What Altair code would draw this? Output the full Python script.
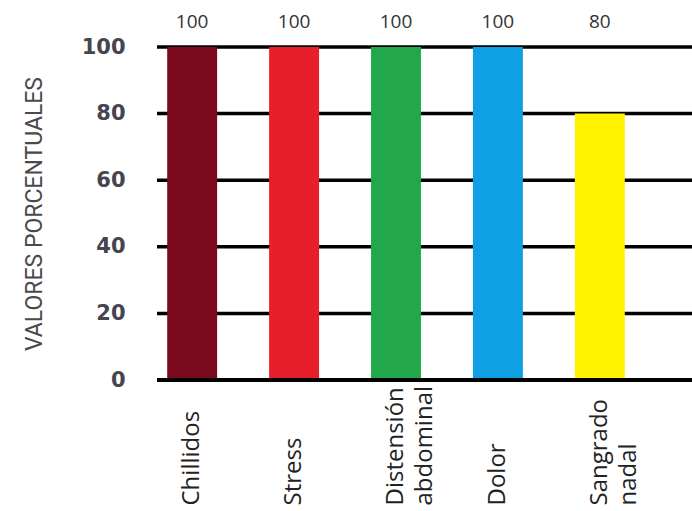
import altair as alt
import pandas as pd

# Síntomas observados y su frecuencia (%)
sintomas = ["Chillidos", "Stress", "Distensión\nabdominal", "Dolor", "Sangrado\nnadal"]
valores = [100, 100, 100, 100, 80]
colores = ["#7B0A1C", "#E81F2A", "#22A84B", "#0EA0E2", "#FFF200"]
marcas_y = [0, 20, 40, 60, 80, 100]

df = pd.DataFrame({"sintoma": sintomas, "valor": valores, "color": colores})
df_grid = pd.DataFrame({"valor": marcas_y})

W, H = 535, 333

x_enc = alt.X(
    "sintoma:N",
    sort=sintomas,
    scale=alt.Scale(domain=sintomas, range=[0, 478], paddingInner=0.51, paddingOuter=0.1),
    axis=alt.Axis(
        title=None,
        labelAngle=270,
        labelAlign="left",
        labelBaseline="middle",
        labelFont="Open Sans",
        labelFontSize=24,
        labelColor="#222222",
        labelPadding=125,
        labelExpr="split(datum.label, '\\n')",
        labelLineHeight=29,
        ticks=False,
        domain=False,
        grid=False,
    ),
)

y_scale = alt.Scale(domain=[0, 100])

y_axis = alt.Axis(
    title="VALORES PORCENTUALES",
    titleFont="Roboto",
    titleFontSize=23,
    titleFontWeight="normal",
    titleColor="#4a4a4a",
    titlePadding=35,
    values=marcas_y,
    labelFont="DejaVu Sans",
    labelFontSize=21,
    labelFontWeight="bold",
    labelColor="#454550",
    labelPadding=32,
    ticks=False,
    domain=False,
    grid=False,
)

y_enc = alt.Y("valor:Q", scale=y_scale, axis=y_axis)

# horizontal reference lines across the whole plot width
lineas = alt.Chart(df_grid).mark_rule(color="#000000", strokeWidth=3.5).encode(
    y=y_enc,
    x=alt.value(0),
    x2=alt.value(W),
)

barras = alt.Chart(df).mark_bar().encode(
    x=x_enc,
    y=y_enc,
    color=alt.Color("color:N", scale=None),
)

base_line = alt.Chart(df_grid).transform_filter("datum.valor == 0").mark_rule(
    color="#000000", strokeWidth=4
).encode(
    y=y_enc,
    x=alt.value(0),
    x2=alt.value(W),
)

etiquetas = alt.Chart(df).mark_text(
    font="Open Sans", fontSize=19, color="#333333", baseline="middle", dy=-25
).encode(
    x=alt.X("sintoma:N", sort=sintomas),
    y=alt.value(0),
    text="valor:Q",
)

chart = (
    alt.layer(lineas, barras, base_line, etiquetas)
    .properties(
        width=W,
        height=H,
        background="#ffffff",
        autosize=alt.AutoSizeParams(type="none"),
        padding={"left": 157, "top": 47, "right": 0, "bottom": 131},
    )
    .configure_view(stroke=None, strokeWidth=0)
)

chart.save("out.html", embed_options={"renderer": "svg", "actions": False})
